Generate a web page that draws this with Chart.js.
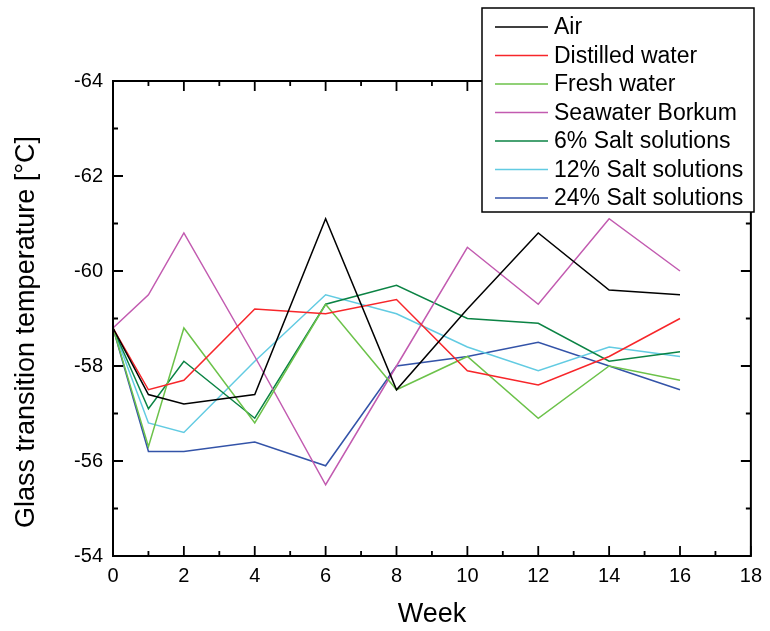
<!DOCTYPE html>
<html>
<head>
<meta charset="utf-8">
<script src="https://cdn.jsdelivr.net/npm/chart.js@4/dist/chart.umd.min.js"></script>
<style>
html,body{margin:0;padding:0;background:#fff;}
#wrap{width:770px;height:631px;}
</style>
</head>
<body>
<div id="wrap"><canvas id="c" width="770" height="631"></canvas></div>
<script>
const weeks = [0, 1, 2, 4, 6, 8, 10, 12, 14, 16];
const seriesNames = ["Air", "Distilled water", "Fresh water", "Seawater Borkum", "6% Salt solutions", "12% Salt solutions", "24% Salt solutions"];
const air       = [-58.8, -57.4, -57.2, -57.4, -61.1, -57.5, -59.2, -60.8, -59.6, -59.5];
const distilled = [-58.8, -57.5, -57.7, -59.2, -59.1, -59.4, -57.9, -57.6, -58.2, -59.0];
const fresh     = [-58.8, -56.3, -58.8, -56.8, -59.3, -57.5, -58.2, -56.9, -58.0, -57.7];
const seawater  = [-58.8, -59.5, -60.8, -58.2, -55.5, -58.0, -60.5, -59.3, -61.1, -60.0];
const salt6     = [-58.8, -57.1, -58.1, -56.9, -59.3, -59.7, -59.0, -58.9, -58.1, -58.3];
const salt12    = [-58.8, -56.8, -56.6, -58.1, -59.5, -59.1, -58.4, -57.9, -58.4, -58.2];
const salt24    = [-58.8, -56.2, -56.2, -56.4, -55.9, -58.0, -58.2, -58.5, -58.0, -57.5];
const xTicks = [0, 2, 4, 6, 8, 10, 12, 14, 16, 18];
const yTicks = [-64, -62, -60, -58, -56, -54];

const colors = ["#000000", "#f7262a", "#6cc24a", "#c25bb0", "#0b8344", "#62cbe2", "#3353a8"];
const allSeries = [air, distilled, fresh, seawater, salt6, salt12, salt24];

const FONT = "'Liberation Sans', Arial, sans-serif";

const datasets = allSeries.map((vals, i) => ({
  label: seriesNames[i],
  data: weeks.map((w, j) => ({x: w, y: vals[j]})),
  borderColor: colors[i],
  backgroundColor: colors[i],
  borderWidth: 1.5,
  pointRadius: 0,
  tension: 0,
  fill: false
}));

const framePlugin = {
  id: 'frame',
  afterDatasetsDraw(chart) {
    const {ctx, chartArea: a, scales: {x, y}} = chart;
    ctx.save();
    ctx.strokeStyle = '#000';
    ctx.lineWidth = 2;
    ctx.strokeRect(a.left, a.top, a.right - a.left, a.bottom - a.top);
    ctx.lineWidth = 1.8;
    ctx.beginPath();
    for (let v = 0; v <= 18; v++) {
      const px = x.getPixelForValue(v);
      const len = v % 2 === 0 ? 10 : 5;
      ctx.moveTo(px, a.bottom); ctx.lineTo(px, a.bottom - len);
      ctx.moveTo(px, a.top); ctx.lineTo(px, a.top + len);
    }
    for (let v = -64; v <= -54; v++) {
      const py = y.getPixelForValue(v);
      const len = v % 2 === 0 ? 10 : 5;
      ctx.moveTo(a.left, py); ctx.lineTo(a.left + len, py);
      ctx.moveTo(a.right, py); ctx.lineTo(a.right - len, py);
    }
    ctx.stroke();

    // y axis title
    ctx.save();
    ctx.translate(27, 332);
    ctx.rotate(-Math.PI / 2);
    ctx.fillStyle = '#000';
    ctx.font = "27px " + FONT;
    ctx.textAlign = 'center';
    ctx.textBaseline = 'middle';
    ctx.fillText('Glass transition temperature [°C]', 0, 0);
    ctx.restore();

    // legend
    const bx = 482, by = 8, bw = 272, bh = 204;
    ctx.fillStyle = '#fff';
    ctx.fillRect(bx, by, bw, bh);
    ctx.lineWidth = 1.5;
    ctx.strokeStyle = '#000';
    ctx.strokeRect(bx, by, bw, bh);
    ctx.font = "23px " + FONT;
    ctx.textBaseline = 'middle';
    ctx.textAlign = 'left';
    chart.data.datasets.forEach((ds, i) => {
      const cy = 27 + i * 28.5;
      ctx.strokeStyle = ds.borderColor;
      ctx.lineWidth = 1.5;
      ctx.beginPath();
      ctx.moveTo(495, cy); ctx.lineTo(548, cy);
      ctx.stroke();
      ctx.fillStyle = '#000';
      ctx.fillText(ds.label, 554, cy + 1);
    });
    ctx.restore();
  }
};

new Chart(document.getElementById('c'), {
  type: 'line',
  data: {datasets},
  plugins: [framePlugin],
  options: {
    responsive: false,
    animation: false,
    events: [],
    layout: {padding: {top: 81, right: 14, left: 0, bottom: 0}},
    plugins: {legend: {display: false}, tooltip: {enabled: false}},
    scales: {
      x: {
        type: 'linear',
        min: 0, max: 18,
        afterFit(s) { s.height = 75; },
        afterBuildTicks(s) { s.ticks = xTicks.map(v => ({value: v})); },
        grid: {display: false, drawTicks: false},
        border: {display: false},
        ticks: {color: '#000', font: {size: 20, family: FONT}, padding: 8, maxRotation: 0, autoSkip: false},
        title: {display: true, text: 'Week', color: '#000', font: {size: 27, family: FONT}, padding: {top: 0, bottom: 0}}
      },
      y: {
        type: 'linear',
        min: -64, max: -54,
        reverse: true,
        afterFit(s) { s.width = 113; },
        afterBuildTicks(s) { s.ticks = yTicks.map(v => ({value: v})); },
        grid: {display: false, drawTicks: false},
        border: {display: false},
        ticks: {color: '#000', font: {size: 20, family: FONT}, padding: 10, autoSkip: false},
        title: {display: false}
      }
    }
  }
});
</script>
</body>
</html>
